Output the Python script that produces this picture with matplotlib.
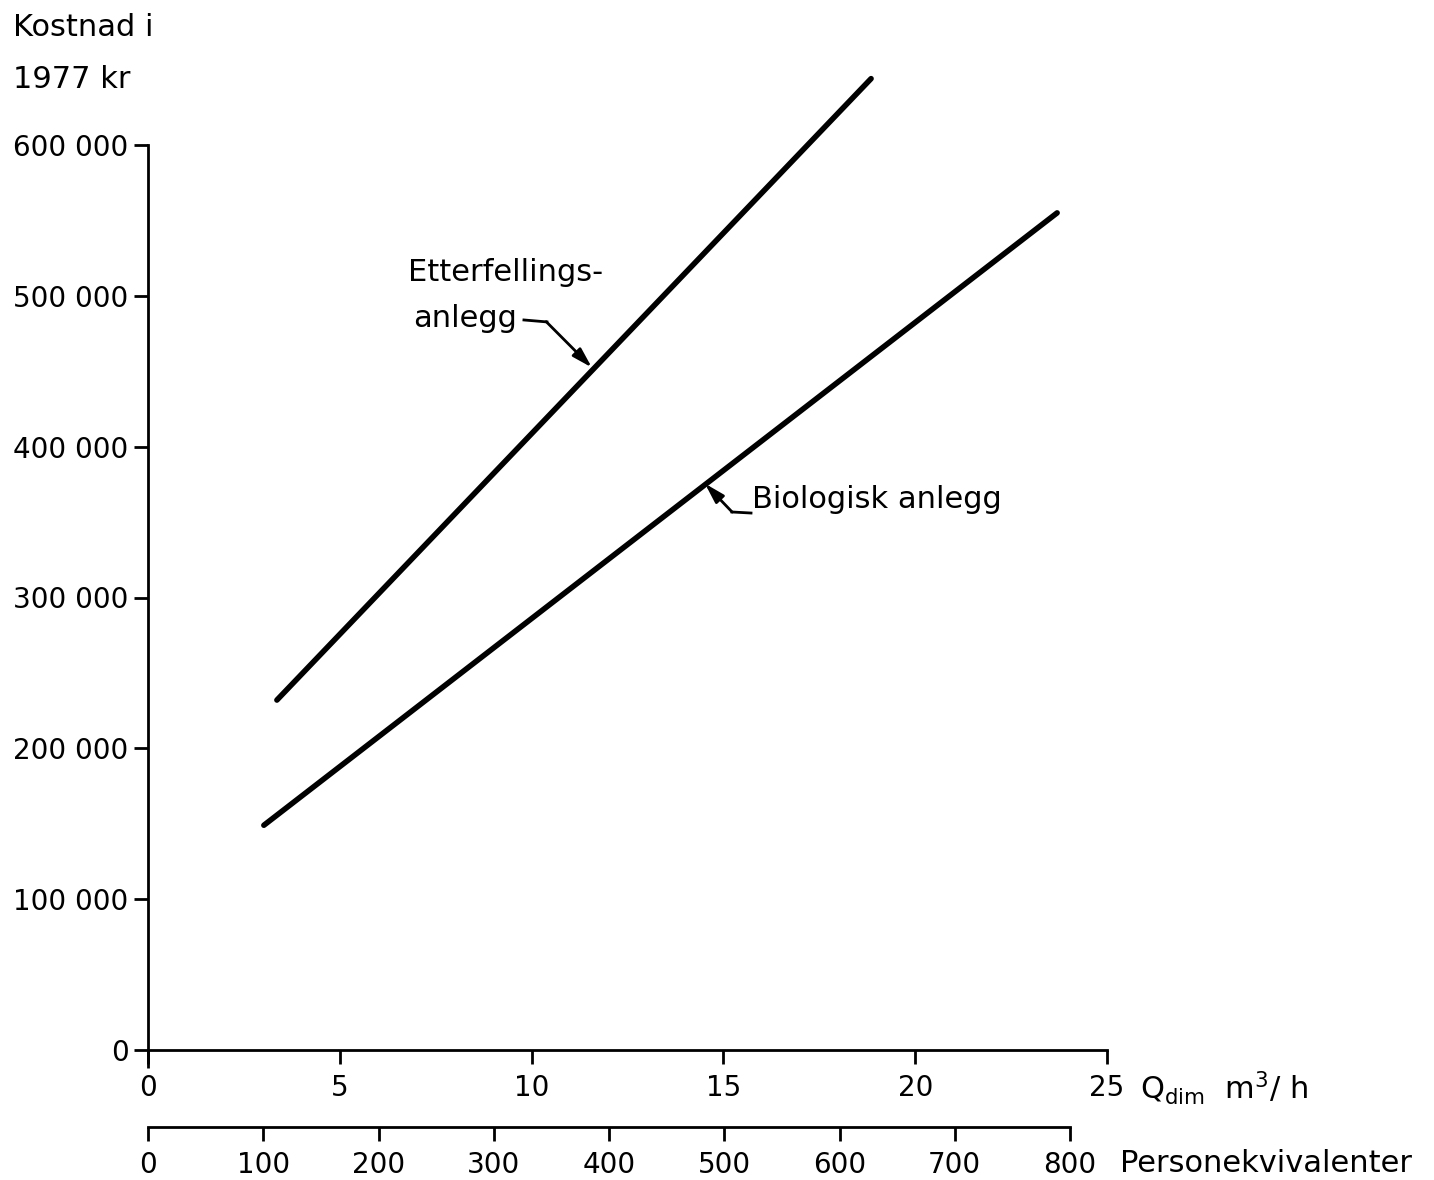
import matplotlib
matplotlib.use("Agg")
import matplotlib.pyplot as plt

# Data
q_etter = [3.36, 18.85]
cost_etter = [232000, 644000]
q_bio = [3.02, 23.7]
cost_bio = [149000, 555000]

y_ticks = [0, 100000, 200000, 300000, 400000, 500000, 600000]
y_labels = ["0", "100 000", "200 000", "300 000", "400 000", "500 000", "600 000"]
x_ticks = [0, 5, 10, 15, 20, 25]
pe_ticks = [0, 100, 200, 300, 400, 500, 600, 700, 800]

plt.rcParams['font.family'] = ['DejaVu Sans']
FS = 22   # text labels
FT = 20   # tick labels
W, H = 1434, 1180
fig = plt.figure(figsize=(W / 100, H / 100), dpi=100)

# main axes: x 0..25 -> px 148..1107 ; y 0 at px 1050, 600000 at px 145
x0, x1 = 148, 1107
y0 = 1050
ppu = (1050 - 145) / 600000
ytop = 660000
ax = fig.add_axes([x0 / W, (H - y0) / H, (x1 - x0) / W, ytop * ppu / H])
ax.set_xlim(0, 25)
ax.set_ylim(0, ytop)

for s in ["top", "right"]:
    ax.spines[s].set_visible(False)
ax.spines["left"].set_bounds(0, 600000)
ax.spines["left"].set_linewidth(2)
ax.spines["bottom"].set_linewidth(2)

ax.set_yticks(y_ticks)
ax.set_yticklabels(y_labels, fontsize=FT)
ax.set_xticks(x_ticks)
ax.set_xticklabels([str(t) for t in x_ticks], fontsize=FT)
ax.tick_params(axis="y", direction="out", length=10, width=2, pad=4)
ax.tick_params(axis="x", direction="out", length=10, width=2, pad=7)

# small crossing at origin
ax.plot([0, 0], [-12000, 0], color="black", lw=2, clip_on=False, solid_capstyle="butt")

ax.plot(q_etter, cost_etter, color="black", lw=4, solid_capstyle="round", clip_on=False)
ax.plot(q_bio, cost_bio, color="black", lw=4, solid_capstyle="round", clip_on=False)

# Labels with arrows
arrow_kw = dict(arrowstyle="-|>,head_length=1.2,head_width=0.35", color="black", lw=2,
                shrinkA=0, shrinkB=0)
ax.text(6.78, 515800, "Etterfellings-", fontsize=FS, va="center", ha="left")
ax.text(6.91, 485300, "anlegg", fontsize=FS, va="center", ha="left")
ax.plot([9.80, 10.40], [484000, 482700], color="black", lw=2)
ax.annotate("", xy=(11.57, 452500), xytext=(10.38, 482900), arrowprops=arrow_kw)

ax.text(15.75, 364650, "Biologisk anlegg", fontsize=FS, va="center", ha="left")
ax.plot([15.22, 15.72], [356700, 356000], color="black", lw=2)
ax.annotate("", xy=(14.52, 375500), xytext=(15.23, 356600), arrowprops=arrow_kw)

# axis titles
fig.text(13 / W, 1 - 27 / H, "Kostnad i", fontsize=FS, va="center", ha="left")
fig.text(13 / W, 1 - 80 / H, "1977 kr", fontsize=FS, va="center", ha="left")
fig.text(1140 / W, 1 - 1088 / H, r"Q$_{\mathrm{dim}}$  m$^3$/ h", fontsize=FS, va="center", ha="left")

# secondary axis: Personekvivalenter
yb = 1127
ax2 = fig.add_axes([x0 / W, (H - yb) / H, (1070 - x0) / W, 0.001])
ax2.set_xlim(0, 800)
ax2.set_ylim(0, 1)
for s in ["top", "right", "left"]:
    ax2.spines[s].set_visible(False)
ax2.spines["bottom"].set_linewidth(2)
ax2.set_yticks([])
ax2.patch.set_visible(False)
ax2.set_xticks(pe_ticks)
ax2.set_xticklabels([str(t) for t in pe_ticks], fontsize=FT)
ax2.tick_params(axis="x", direction="out", length=10, width=2, pad=7)
fig.text(1120 / W, 1 - 1164 / H, "Personekvivalenter", fontsize=FS, va="center", ha="left")

fig.savefig("out.png", dpi=100)
